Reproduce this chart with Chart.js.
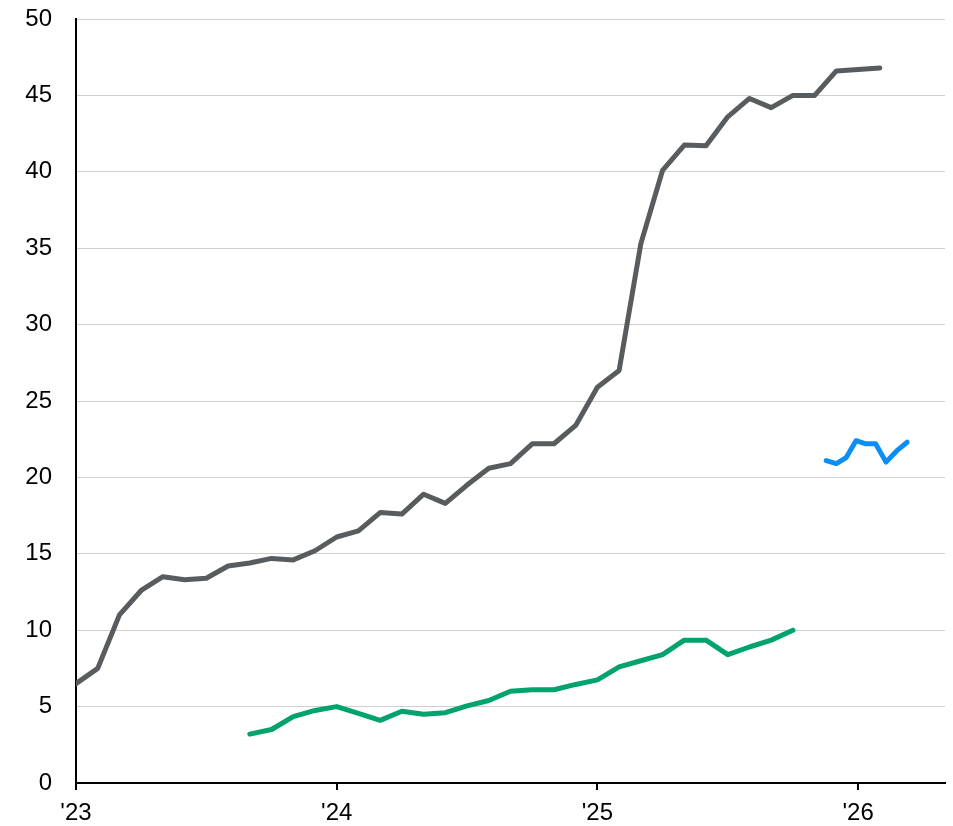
<!DOCTYPE html>
<html>
<head>
<meta charset="utf-8">
<script src="https://cdn.jsdelivr.net/npm/chart.js@4.4.1/dist/chart.umd.min.js"></script>
<style>
  html, body { margin: 0; padding: 0; background: #fff; }
</style>
</head>
<body>
<canvas id="lineChart" width="953" height="826"></canvas>
<script>
// monthly series, first point Jan 2023
var grayStart = '2023-01';
var grayValues = [6.5, 7.5, 11.0, 12.6, 13.5, 13.3, 13.4, 14.2, 14.4, 14.7, 14.6, 15.2,
                  16.1, 16.5, 17.7, 17.6, 18.9, 18.3, 19.5, 20.6, 20.9, 22.2, 22.2, 23.4,
                  25.9, 27.0, 35.3, 40.1, 41.75, 41.7, 43.6, 44.8, 44.2, 45.0, 45.0, 46.6,
                  46.7, 46.8];

// monthly series, first point Sep 2023
var greenStart = '2023-09';
var greenValues = [3.2, 3.5, 4.35, 4.75, 5.0, 4.55, 4.1, 4.7, 4.5, 4.6, 5.05, 5.4,
                   6.0, 6.1, 6.1, 6.45, 6.75, 7.6, 8.0, 8.4, 9.35, 9.35, 8.4, 8.9,
                   9.35, 10.0];

// every two weeks
var blueDates = ['2025-11-17', '2025-12-01', '2025-12-15', '2025-12-29', '2026-01-12',
                 '2026-01-26', '2026-02-09', '2026-02-23', '2026-03-09'];
var blueValues = [21.1, 20.9, 21.3, 22.4, 22.2, 22.2, 21.0, 21.75, 22.3];

var yearTicks = [0, 12, 24, 36]; // Jan '23 .. Jan '26 in months
var yTicks = [0, 5, 10, 15, 20, 25, 30, 35, 40, 45, 50];

// months since Jan 2023
function monthIndex(s) {
    var p = s.split('-');
    var y = +p[0], m = +p[1];
    var idx = (y - 2023) * 12 + (m - 1);
    if (p[2]) {
        var days = new Date(y, m, 0).getDate();
        idx += (+p[2] - 1) / days;
    }
    return idx;
}

function monthly(start, values) {
    var s = monthIndex(start);
    return values.map(function (v, i) { return { x: s + i, y: v }; });
}

var blueData = blueDates.map(function (d, i) { return { x: monthIndex(d), y: blueValues[i] }; });

var font = { family: "'Liberation Sans', Arial, sans-serif", size: 24 };

function lineSet(data, color) {
    return {
        data: data,
        borderColor: color,
        borderWidth: 5,
        pointRadius: 0,
        tension: 0,
        borderCapStyle: 'round',
        borderJoinStyle: 'round',
        fill: false
    };
}

var ctx = document.getElementById('lineChart').getContext('2d');
var chart = new Chart(ctx, {
    type: 'line',
    data: {
        datasets: [
            lineSet(monthly(grayStart, grayValues), '#595c5f'),
            lineSet(monthly(greenStart, greenValues), '#00a36b'),
            lineSet(blueData, '#0b8ef5')
        ]
    },
    options: {
        responsive: false,
        animation: false,
        layout: { padding: { top: 0, right: 8, left: 0, bottom: 0 } },
        plugins: {
            legend: { display: false },
            tooltip: { enabled: false }
        },
        scales: {
            x: {
                type: 'linear',
                min: 0,
                max: 40,
                afterBuildTicks: function (scale) {
                    scale.ticks = yearTicks.map(function (v) { return { value: v }; });
                },
                afterFit: function (scale) { scale.height = 43; },
                grid: { drawOnChartArea: false, drawTicks: true, tickLength: 7, color: '#000', lineWidth: 2 },
                border: { color: '#000', width: 2 },
                ticks: {
                    color: '#000',
                    font: font,
                    padding: 9,
                    maxRotation: 0,
                    callback: function (v) { return "'" + (23 + Math.round(v / 12)); }
                }
            },
            y: {
                min: 0,
                max: 50,
                afterBuildTicks: function (scale) {
                    scale.ticks = yTicks.map(function (v) { return { value: v }; });
                },
                afterFit: function (scale) {
                    scale.width = 76;
                    scale.paddingTop = 19;
                },
                grid: { color: '#cfcfcf', lineWidth: 1, drawTicks: false },
                border: { color: '#000', width: 2 },
                ticks: { color: '#000', font: font, padding: 24 }
            }
        }
    }
});
</script>
</body>
</html>
